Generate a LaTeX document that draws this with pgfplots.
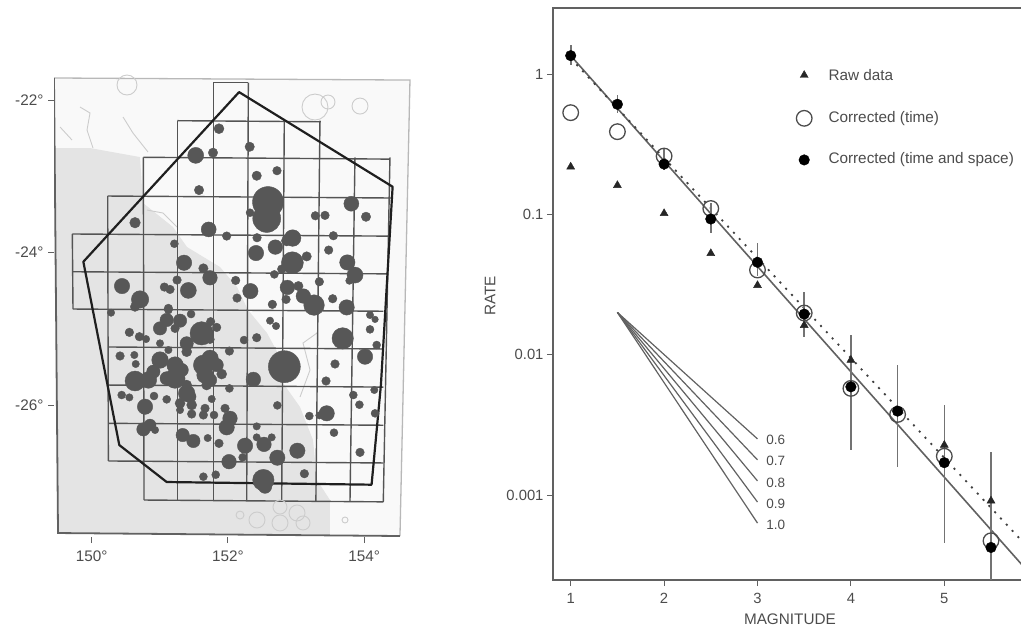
\documentclass[border=0pt]{standalone}
\usepackage{pgfplots}
\usepackage{pgfplotstable}
\usepackage{fontspec}
\setmainfont{Liberation Sans}
\pgfplotsset{compat=1.18}
\definecolor{txt}{gray}{0.3}
\definecolor{ln}{gray}{0.38}
\definecolor{grd}{gray}{0.33}
\definecolor{mapcirc}{gray}{0.34}
\definecolor{land}{gray}{0.895}
\definecolor{sea}{gray}{0.975}
\definecolor{coast}{gray}{0.8}
\pgfplotstableread{
lon lat r
151.869 -22.376 5
151.527 -22.726 8
151.781 -22.691 4.7
152.320 -22.613 4.7
152.423 -22.993 4.7
152.721 -22.927 4.3
151.576 -23.181 4.7
152.589 -23.338 15.5
152.570 -23.553 14
152.325 -23.478 4
153.813 -23.360 7.5
153.284 -23.518 4.3
153.426 -23.513 4.3
154.028 -23.531 4.7
150.636 -23.609 5.3
151.718 -23.697 7.5
151.982 -23.784 4.3
152.428 -23.806 4.3
152.951 -23.810 8.3
152.863 -23.845 5.3
153.549 -23.780 4.3
151.214 -23.885 4
152.697 -23.929 7.3
152.413 -24.007 7.7
153.480 -23.968 4.3
153.157 -24.051 4.7
152.947 -24.134 11
151.356 -24.134 7.7
153.754 -24.130 7.7
151.640 -24.208 4.7
151.737 -24.331 7.3
152.790 -24.217 4.3
153.867 -24.296 8
152.682 -24.287 4
153.784 -24.370 3.7
152.114 -24.366 4.3
153.343 -24.383 4.3
151.253 -24.361 4.3
150.445 -24.440 7.7
151.067 -24.453 4.3
151.150 -24.484 4.3
151.419 -24.497 8
152.330 -24.506 7.7
152.873 -24.458 7.3
153.035 -24.440 4.7
153.108 -24.571 7.3
150.710 -24.615 8.7
152.134 -24.597 4.3
152.854 -24.615 4.3
153.539 -24.606 4.3
153.265 -24.689 10.3
153.744 -24.720 7.7
152.653 -24.680 4.3
150.636 -24.711 4.7
151.126 -24.733 4.3
150.284 -24.789 3.7
151.101 -24.885 6.7
151.003 -24.995 6.7
151.126 -24.754 4
151.297 -24.894 6.7
151.224 -24.995 4.3
151.459 -24.807 4
150.553 -25.047 4.3
150.700 -25.104 4.3
150.798 -25.135 3.7
151.003 -25.191 3.7
151.615 -25.060 11.7
151.747 -24.907 4.3
151.835 -24.982 4.3
151.395 -25.191 6.7
151.738 -25.139 4.3
151.395 -25.301 5
152.619 -24.894 3.7
152.707 -24.964 3.7
152.423 -25.117 4.3
152.237 -25.148 4
153.686 -25.126 10.7
154.087 -24.820 3.7
154.161 -24.877 3.3
154.087 -25.008 4
154.185 -25.213 4
152.022 -25.292 4.3
151.126 -25.279 3.7
150.416 -25.357 4.3
150.626 -25.344 3.7
150.646 -25.462 3.7
154.014 -25.366 7.7
153.573 -25.462 4.3
152.829 -25.497 16
151.003 -25.410 8.3
151.224 -25.476 8.3
151.738 -25.388 8.3
151.640 -25.476 10
151.835 -25.476 6.7
150.905 -25.563 6.7
151.224 -25.650 10
150.636 -25.685 10
150.832 -25.672 8.3
151.664 -25.607 8.3
151.909 -25.594 5
152.374 -25.664 7.3
153.441 -25.685 4.3
152.022 -25.782 4
151.688 -25.738 5
151.395 -25.847 8.3
154.150 -25.803 3.7
150.440 -25.869 4
150.553 -25.900 3.7
150.915 -25.882 4
151.101 -25.926 4
150.783 -26.022 7.7
153.842 -25.869 4
153.931 -25.996 4
151.762 -25.921 3.7
152.726 -26.005 4
151.297 -25.978 5
151.468 -26.000 5
151.958 -26.044 4.3
151.664 -26.044 4.3
151.297 -26.066 3.7
151.468 -26.118 4.3
151.640 -26.131 4.3
151.796 -26.131 4
153.451 -26.109 7.7
153.196 -26.144 4
153.343 -26.136 3.7
154.161 -26.109 4
152.031 -26.175 7.3
151.982 -26.293 7.7
152.423 -26.280 3.7
150.759 -26.319 6.7
150.856 -26.263 6
150.930 -26.328 3.7
151.336 -26.394 6.7
151.493 -26.472 6.7
151.703 -26.433 3.7
151.869 -26.503 4.3
153.558 -26.363 4
152.252 -26.534 7.7
152.530 -26.516 7.3
152.423 -26.424 3.7
152.643 -26.424 3.7
153.020 -26.599 7.7
153.940 -26.621 4.3
152.726 -26.691 7.7
152.017 -26.743 7.3
152.217 -26.687 4
151.640 -26.940 4
151.821 -26.914 4
153.123 -26.901 4.3
152.521 -26.984 10.7
152.545 -27.071 6.7
151.321 -25.541 6.7
151.101 -25.650 6.7
151.738 -25.672 6.7
151.444 -25.891 6
151.395 -25.738 5
151.297 -25.672 5
}\quakes
\pgfplotstableread{
lon lat r
150.518 -21.803 10
153.279 -22.092 13
153.470 -22.026 7
153.940 -22.079 8
153.720 -27.508 3
152.178 -27.443 4
152.427 -27.508 8
152.765 -27.338 7
153.015 -27.416 8
152.765 -27.547 8
153.103 -27.547 7
}\islands
\pgfplotsset{
  sizedots/.style={only marks, scatter,
    visualization depends on={\thisrow{r} \as \rr},
    scatter/@pre marker code/.append style={/tikz/mark size=\rr}},
}
\begin{document}
\begin{tikzpicture}
\path[use as bounding box] (0,0) rectangle (1021pt,630pt);
\clip (0,0) rectangle (1021pt,630pt);
% ---------- map ----------
\begin{axis}[
  at={(54pt,93pt)}, anchor=south west, scale only axis,
  width=357pt, height=460pt,
  xmin=149.446, xmax=154.689, ymin=-27.731, ymax=-21.698,
  axis line style={draw=none},
  xtick={150,152,154}, xticklabels={150°,152°,154°},
  ytick={-26,-24,-22}, yticklabels={-26°,-24°,-22°},
  xtick pos=lower, ytick pos=left, tick align=outside,
  major tick length=6pt,
  tick style={color=ln, line width=0.9pt},
  tick label style={font=\fontsize{15.3pt}{17pt}\selectfont, text=txt},
  xticklabel style={yshift=-4pt},
  yticklabel style={xshift=-1pt},
]
% sea and land
\addplot[fill=sea, draw=none] coordinates {(149.446,-21.711)(154.674,-21.738)(154.527,-27.718)(149.505,-27.679)} -- cycle;
\addplot[fill=land, draw=none] coordinates {(149.461,-22.630)(149.975,-22.630)(150.709,-22.748)(150.753,-23.351)(151.194,-23.666)(151.399,-23.928)(151.884,-24.190)(152.134,-24.452)(152.295,-24.754)(152.574,-25.056)(152.765,-25.370)(152.809,-25.711)(153.059,-26.026)(153.250,-26.459)(153.308,-26.984)(153.499,-27.246)(153.499,-27.692)(149.505,-27.679)} -- cycle;
% coast detail
\addplot[coast, line width=0.9pt] coordinates {(149.535,-22.354)(149.711,-22.525)};
\addplot[coast, line width=0.9pt] coordinates {(149.828,-22.092)(149.975,-22.170)(149.931,-22.393)(150.019,-22.630)};
\addplot[coast, line width=0.9pt] coordinates {(150.460,-22.223)(150.606,-22.433)(150.827,-22.682)};
\addplot[coast, line width=0.9pt] coordinates {(150.812,-23.443)(151.047,-23.482)(151.253,-23.666)};
\addplot[coast, line width=0.9pt] coordinates {(153.308,-25.056)(153.103,-25.187)(153.206,-25.541)(153.059,-25.895)};
\addplot[scatter/use mapped color={draw=coast, line width=0.9pt}, sizedots, mark=o] table[x=lon,y=lat] {\islands};
% frame
\addplot[color={rgb,1:red,0.72;green,0.72;blue,0.72}, line width=1.3pt] coordinates {(149.446,-21.711)(154.674,-21.738)(154.527,-27.718)};
\addplot[ln, line width=1.8pt] coordinates {(149.446,-21.711)(149.505,-27.679)(154.527,-27.718)};
% grid cells
\foreach \a/\b/\c/\d in {
  151.786/-21.773/152.300/-21.773,
  151.257/-22.271/153.367/-22.285,
  150.758/-22.751/154.380/-22.775,
  150.235/-23.259/154.405/-23.285,
  149.715/-23.757/154.351/-23.785,
  149.715/-24.252/154.336/-24.280,
  149.725/-24.741/154.282/-24.770,
  150.244/-25.239/154.282/-25.265,
  150.244/-25.738/154.282/-25.765,
  150.244/-26.240/154.282/-26.265,
  150.244/-26.734/154.282/-26.760,
  150.768/-27.246/154.282/-27.270,
  149.715/-23.757/149.725/-24.741,
  150.235/-23.259/150.244/-26.734,
  150.758/-22.751/150.768/-27.246,
  151.257/-22.271/151.257/-27.250,
  151.786/-21.773/151.786/-27.255,
  152.300/-21.773/152.276/-27.258,
  152.828/-22.271/152.790/-27.260,
  153.352/-22.271/153.292/-27.263,
  153.866/-22.751/153.793/-27.266,
  154.380/-22.751/154.282/-27.270}{
  \edef\tmp{\noexpand\addplot[color=grd, line width=1.4pt] coordinates {(\a,\b)(\c,\d)};}\tmp
}
% earthquakes
\addplot[scatter/use mapped color={draw=mapcirc, fill=mapcirc}, sizedots, mark=*] table[x=lon,y=lat] {\quakes};
% study region
\addplot[black!88, line width=2.2pt, line join=round] coordinates {(152.164,-21.896)(154.419,-23.137)(154.306,-24.852)(154.247,-25.738)(154.110,-27.045)(151.101,-27.010)(150.405,-26.525)(149.877,-24.121)} -- cycle;
\end{axis}
% ---------- magnitude-rate plot ----------
\begin{axis}[
  at={(553pt,50pt)}, anchor=south west, scale only axis,
  width=472pt, height=572pt,
  xmin=0.8105, xmax=5.864, ymode=log, ymin=0.000248, ymax=2.951,
  axis line style={ln, line width=1.5pt},
  xtick={1,2,3,4,5}, xticklabels={1,2,3,4,5},
  ytick={0.001,0.01,0.1,1}, yticklabels={0.001,0.01,0.1,1},
  yminorticks=false,
  xtick pos=lower, ytick pos=left, tick align=outside,
  major tick length=6pt,
  tick style={color=ln, line width=0.9pt},
  tick label style={font=\fontsize{14.8pt}{16pt}\selectfont, text=txt},
  xticklabel style={yshift=-4pt},
  xlabel={MAGNITUDE}, ylabel={RATE},
  label style={font=\fontsize{15.3pt}{17pt}\selectfont, text=txt},
  xlabel style={at={(axis description cs:0.502,0)}, anchor=center, yshift=-39pt},
  ylabel style={at={(axis description cs:0,0.4965)}, anchor=center, yshift=63pt},
]
\addplot[ln, line width=1.6pt] coordinates {(1,1.35)(5.864,0.000301)};
\addplot[black!75, line width=1.8pt, dash pattern=on 2pt off 6.5pt] coordinates {(1,1.294)(5.864,0.000446)};
% slope fan
\foreach \v in {0.00251,0.00178,0.00126,0.000891,0.000631}{
  \edef\tmp{\noexpand\addplot[ln, line width=1.2pt] coordinates {(1.5,0.02)(3,\v)};}\tmp
}
\node[font=\fontsize{13.5pt}{15pt}\selectfont, text=txt] at (axis cs:3.196,0.00246) {0.6};
\node[font=\fontsize{13.5pt}{15pt}\selectfont, text=txt] at (axis cs:3.196,0.00174) {0.7};
\node[font=\fontsize{13.5pt}{15pt}\selectfont, text=txt] at (axis cs:3.196,0.00122) {0.8};
\node[font=\fontsize{13.5pt}{15pt}\selectfont, text=txt] at (axis cs:3.196,0.00087) {0.9};
\node[font=\fontsize{13.5pt}{15pt}\selectfont, text=txt] at (axis cs:3.196,0.00061) {1.0};
% raw data
\addplot[only marks, mark=triangle*, mark size=4.6pt, color=black!85] coordinates {
 (1,0.218)(1.5,0.161)(2,0.1016)(2.5,0.0527)(3,0.0312)(3.5,0.0162)(4,0.00916)(4.5,0.0039)(5,0.00227)(5.5,0.00091)};
% corrected (time)
\addplot[only marks, mark=o, mark size=7.8pt, color=black!70, line width=1.3pt] coordinates {
 (1,0.53)(1.5,0.388)(2,0.26)(2.5,0.110)(3,0.0401)(3.5,0.0198)(4,0.00575)(4.5,0.00375)(5,0.00189)(5.5,0.000472)};
% corrected (time and space), with error bars
\addplot[only marks, mark=*, mark size=5.3pt, color=black,
  error bars/.cd, y dir=both, y explicit, error mark=none,
  error bar style={color=black!55, line width=1.6pt}] coordinates {
 (1,1.35) += (0,0.25) -= (0,0.19)
 (1.5,0.608) += (0,0.1) -= (0,0.081)
 (2,0.228) += (0,0.067) -= (0,0.021)
 (2.5,0.0926) += (0,0.027) -= (0,0.019)
 (3,0.0455) += (0,0.0166) -= (0,0.0092)
 (3.5,0.01946) += (0,0.0086) -= (0,0.006)
 (4,0.0059) += (0,0.0079) -= (0,0.00381)
 (4.5,0.00396) += (0,0.00447) -= (0,0.00237)
 (5,0.0017) += (0,0.00267) -= (0,0.001246)
 (5.5,0.000423) += (0,0.001607) -= (0,0.000173)
};
% key
\addplot[only marks, mark=triangle*, mark size=4.6pt, color=black!85] coordinates {(3.5,0.98)};
\addplot[only marks, mark=o, mark size=7.8pt, color=black!70, line width=1.3pt] coordinates {(3.5,0.483)};
\addplot[only marks, mark=*, mark size=5.3pt, color=black] coordinates {(3.5,0.244)};
\node[anchor=west, inner sep=0pt, font=\fontsize{15.3pt}{17pt}\selectfont, text=txt] at (axis cs:3.758,0.98) {Raw data};
\node[anchor=west, inner sep=0pt, font=\fontsize{15.3pt}{17pt}\selectfont, text=txt] at (axis cs:3.758,0.483) {Corrected (time)};
\node[anchor=west, inner sep=0pt, font=\fontsize{15.3pt}{17pt}\selectfont, text=txt] at (axis cs:3.758,0.244) {Corrected (time and space)};
\end{axis}
\end{tikzpicture}
\end{document}
